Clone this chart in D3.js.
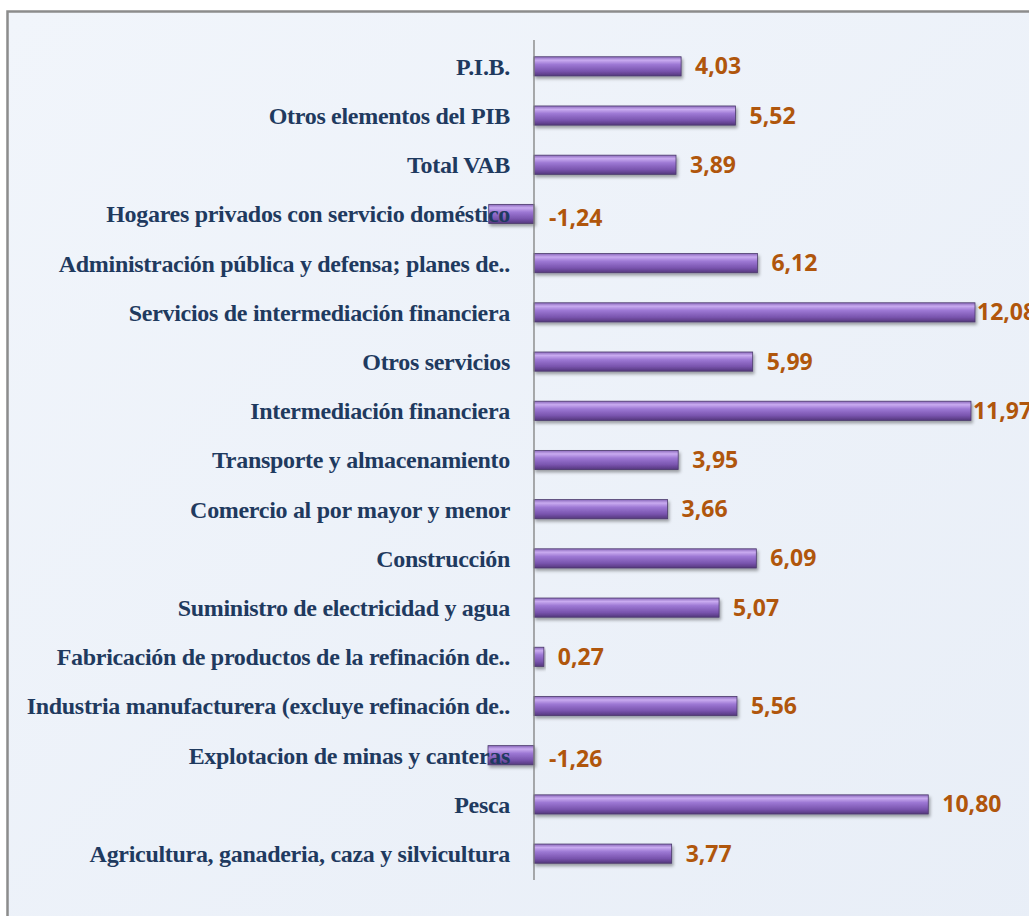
<!DOCTYPE html>
<html>
<head>
<meta charset="utf-8">
<script src="https://cdn.jsdelivr.net/npm/d3@7"></script>
<style>
    html, body { margin: 0; padding: 0; background: #ffffff; }
    svg { display: block; }
</style>
</head>
<body>
<div id="chart"></div>
<script>
// Categories from top to bottom, as shown in the chart
const categories = [
    "P.I.B.",
    "Otros elementos del PIB",
    "Total VAB",
    "Hogares privados con servicio doméstico",
    "Administración pública y defensa; planes de..",
    "Servicios de intermediación financiera",
    "Otros servicios",
    "Intermediación financiera",
    "Transporte y almacenamiento",
    "Comercio al por mayor y menor",
    "Construcción",
    "Suministro de electricidad y agua",
    "Fabricación de productos de la refinación de..",
    "Industria manufacturera (excluye refinación de..",
    "Explotacion de minas y canteras",
    "Pesca",
    "Agricultura, ganaderia, caza y silvicultura"
];

const values = [4.03, 5.52, 3.89, -1.24, 6.12, 12.08, 5.99, 11.97, 3.95, 3.66, 6.09, 5.07, 0.27, 5.56, -1.26, 10.80, 3.77];

const width = 1029;
const height = 916;

const svg = d3.select("#chart")
    .append("svg")
    .attr("width", width)
    .attr("height", height);

const defs = svg.append("defs");

// Light blue background
const bg = defs.append("linearGradient")
    .attr("id", "bg")
    .attr("x1", 0).attr("y1", 0).attr("x2", 1).attr("y2", 1);
bg.append("stop").attr("offset", "0%").attr("stop-color", "#f1f5fb");
bg.append("stop").attr("offset", "100%").attr("stop-color", "#e8eef7");

// Cylinder-like bar shading
const barGrad = defs.append("linearGradient")
    .attr("id", "barGrad")
    .attr("x1", 0).attr("y1", 0).attr("x2", 0).attr("y2", 1);
[
    ["0%", "#8a68bb"],
    ["18%", "#c9abf0"],
    ["40%", "#9d78d4"],
    ["75%", "#7954ae"],
    ["100%", "#54377c"]
].forEach(([o, c]) => barGrad.append("stop").attr("offset", o).attr("stop-color", c));

const shadow = defs.append("filter")
    .attr("id", "shadow")
    .attr("x", "-10%").attr("y", "-40%").attr("width", "130%").attr("height", "200%");
shadow.append("feDropShadow")
    .attr("dx", 1.5).attr("dy", 2.5)
    .attr("stdDeviation", 1.5)
    .attr("flood-color", "#000")
    .attr("flood-opacity", 0.35);

svg.append("rect")
    .attr("x", 7.5).attr("y", 11.5)
    .attr("width", width + 20).attr("height", height + 20)
    .attr("fill", "url(#bg)")
    .attr("stroke", "#8c8c8c")
    .attr("stroke-width", 2.5);

const x = d3.scaleLinear()
    .domain([0, 12.08])
    .range([534, 975]);

const y = d3.scaleBand()
    .domain(categories)
    .range([42, 878])
    .paddingInner(0.61)
    .paddingOuter(0.3);

const rows = categories.map((c, i) => ({ name: c, value: values[i] }));

// Bars
svg.append("g")
    .selectAll("rect")
    .data(rows)
    .enter().append("rect")
    .attr("x", d => x(Math.min(0, d.value)))
    .attr("y", d => y(d.name))
    .attr("width", d => Math.abs(x(d.value) - x(0)))
    .attr("height", y.bandwidth())
    .attr("fill", "url(#barGrad)")
    .attr("stroke", "#4b3a6b")
    .attr("stroke-width", 0.8)
    .attr("filter", "url(#shadow)");

// Vertical axis line at zero
svg.append("line")
    .attr("x1", x(0)).attr("x2", x(0))
    .attr("y1", 40).attr("y2", 880)
    .attr("stroke", "#7f7f7f")
    .attr("stroke-width", 1.3);

// Category labels
svg.append("g")
    .selectAll("text")
    .data(rows)
    .enter().append("text")
    .attr("x", 510)
    .attr("y", d => y(d.name) + y.bandwidth() / 2)
    .attr("dy", "0.35em")
    .attr("text-anchor", "end")
    .attr("font-family", "'Liberation Serif', 'Times New Roman', serif")
    .attr("font-weight", "bold")
    .attr("font-size", 24)
    .attr("letter-spacing", -0.3)
    .attr("fill", "#1f3a5f")
    .text(d => d.name);

// Value labels (long bars get their label pulled in against the bar end)
const fmt = v => v.toFixed(2).replace(".", ",");
const labelX = d => {
    if (d.value < 0) return x(0) + 15;
    const end = x(d.value);
    return end + 14 + 60 > width ? end + 2 : end + 14;
};
svg.append("g")
    .selectAll("text")
    .data(rows)
    .enter().append("text")
    .attr("x", labelX)
    .attr("y", d => y(d.name) + y.bandwidth() / 2 + (d.value < 0 ? 4 : 0))
    .attr("dy", "0.35em")
    .attr("font-family", "'Open Sans', 'Liberation Sans', sans-serif")
    .attr("font-weight", "bold")
    .attr("font-size", 23)
    .attr("fill", "#b0560c")
    .text(d => fmt(d.value));
</script>
</body>
</html>
